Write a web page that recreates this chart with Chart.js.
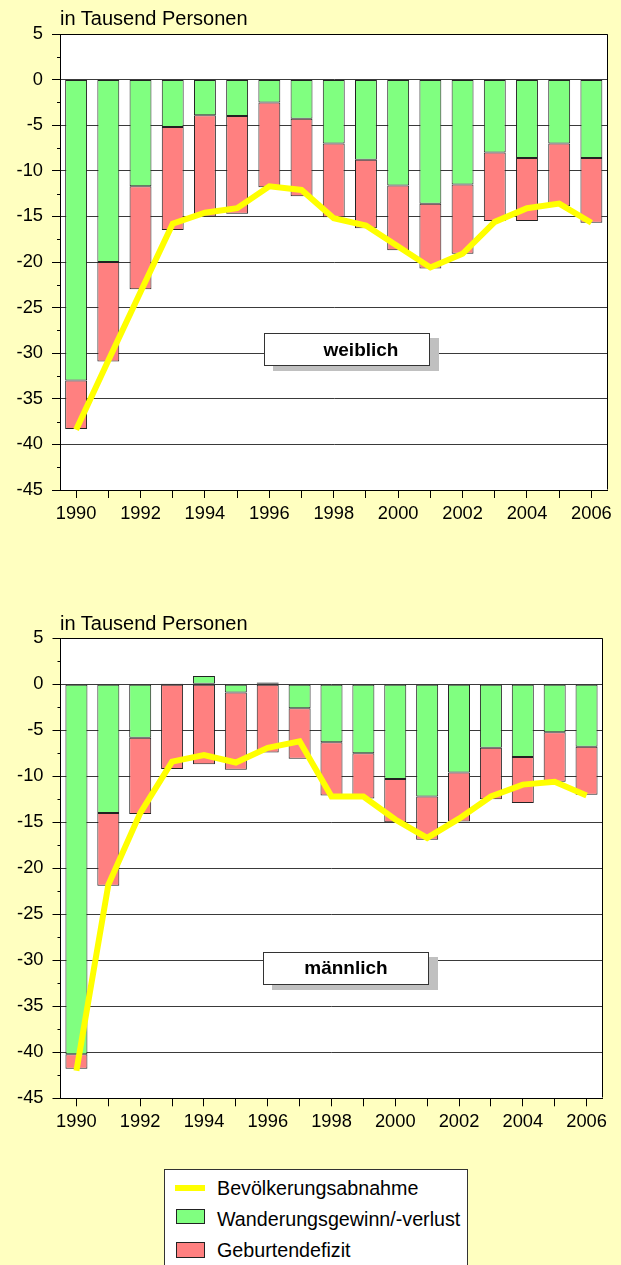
<!DOCTYPE html>
<html><head><meta charset="utf-8">
<script src="https://cdn.jsdelivr.net/npm/chart.js@4.4.1/dist/chart.umd.min.js"></script>
<style>
html,body{margin:0;padding:0;background:#FFFFC0;width:621px;height:1265px;overflow:hidden;font-family:"Liberation Sans",Arial,sans-serif;color:#000;}
.abs{position:absolute;}
.ttl{font-size:20px;line-height:20px;white-space:nowrap;}
.box{background:#fff;border:1px solid #333;box-sizing:border-box;box-shadow:9px 5px 0 #c0c0c0;font-weight:bold;font-size:19px;text-align:center;}
.leg{font-size:19.7px;line-height:20px;white-space:nowrap;}
</style></head><body>

<div class="abs" style="left:0;top:0;width:621px;height:530px;"><canvas id="cW" width="621" height="530"></canvas></div>
<div class="abs" style="left:0;top:600px;width:621px;height:540px;"><canvas id="cM" width="621" height="540"></canvas></div>

<div class="abs ttl" style="left:60px;top:8px;">in Tausend Personen</div>
<div class="abs ttl" style="left:60px;top:613px;">in Tausend Personen</div>

<div class="abs box" style="left:264px;top:333px;width:166px;height:33px;line-height:30px;padding-left:28px;padding-top:1px;">weiblich</div>
<div class="abs box" style="left:263px;top:952px;width:166px;height:33px;line-height:30px;">männlich</div>

<div class="abs" style="left:164px;top:1169px;width:304px;height:100px;background:#fff;border:1px solid #333;box-sizing:border-box;"></div>
<div class="abs" style="left:175px;top:1185px;width:30px;height:6px;background:#FFFF00;"></div>
<div class="abs" style="left:176px;top:1209px;width:29px;height:15px;background:#80FF80;border:1px solid #222;box-sizing:border-box;"></div>
<div class="abs" style="left:176px;top:1242px;width:29px;height:16px;background:#FF8080;border:1px solid #222;box-sizing:border-box;"></div>
<div class="abs leg" style="left:217px;top:1178px;">Bevölkerungsabnahme</div>
<div class="abs leg" style="left:217px;top:1209px;">Wanderungsgewinn/-verlust</div>
<div class="abs leg" style="left:217px;top:1240px;">Geburtendefizit</div>

<script>
const years = ['1990','1991','1992','1993','1994','1995','1996','1997','1998','1999','2000','2001','2002','2003','2004','2005','2006'];
const xTickLabels = ['1990','','1992','','1994','','1996','','1998','','2000','','2002','','2004','','2006'];
const yMin = -45;
const yMax = 5;
const yStep = 5;

const seriesNames = ['Bevölkerungsabnahme','Wanderungsgewinn/-verlust','Geburtendefizit'];

// weiblich
const femaleMigration    = [-33.0,-20.0,-11.7,-5.2,-3.9,-4.0,-2.5,-4.3,-7.0,-8.8,-11.6,-13.6,-11.5,-8.0,-8.6,-7.0,-8.6];
const femaleBirthDeficit = [-5.3,-10.9,-11.3,-11.3,-11.1,-10.7,-9.3,-8.5,-8.1,-7.5,-7.1,-7.1,-7.6,-7.5,-6.9,-6.9,-7.1];
const femaleDecline      = [-38.4,-30.8,-23.3,-15.8,-14.6,-14.1,-11.7,-12.1,-15.2,-16.0,-18.3,-20.6,-19.1,-15.6,-14.1,-13.6,-15.7];

// männlich
const maleMigration    = [-40.2,-14.0,-5.8,0.1,0.9,-0.9,0.2,-2.6,-6.3,-7.5,-10.3,-12.2,-9.6,-6.9,-7.9,-5.2,-6.8];
const maleBirthDeficit = [-1.6,-7.9,-8.3,-9.2,-8.7,-8.4,-7.4,-5.5,-5.8,-4.9,-4.7,-4.7,-5.3,-5.6,-5.0,-5.4,-5.2];
const maleDecline      = [-42.0,-21.8,-14.0,-8.4,-7.7,-8.5,-6.9,-6.2,-12.2,-12.2,-14.7,-16.7,-14.6,-12.2,-10.9,-10.6,-12.1];

const FONT = '"Liberation Sans", Arial, sans-serif';

const framePlugin = {
  id: 'frame',
  beforeDraw(chart) {
    const {ctx, chartArea: a} = chart;
    ctx.save();
    ctx.fillStyle = '#fff';
    ctx.fillRect(a.left, a.top, a.right - a.left, a.bottom - a.top);
    ctx.restore();
  },
  afterDraw(chart) {
    const {ctx, chartArea: a} = chart;
    const y = chart.scales.y;
    ctx.save();
    ctx.strokeStyle = '#000';
    ctx.lineWidth = 1;
    const l = Math.round(a.left) + 0.5, t = Math.round(a.top) + 0.5;
    const r = Math.round(a.right) - 0.5, b = Math.round(a.bottom) - 0.5;
    ctx.beginPath();
    ctx.moveTo(l, t); ctx.lineTo(r, t); ctx.lineTo(r, b);
    ctx.stroke();
    for (let v = y.min; v <= y.max + 0.001; v += yStep / 2) {
      if (Math.abs(v % yStep) > 0.01) {
        const py = Math.round(y.getPixelForValue(v)) + 0.5;
        ctx.beginPath();
        ctx.moveTo(a.left - 3, py);
        ctx.lineTo(a.left, py);
        ctx.stroke();
      }
    }
    ctx.restore();
  }
};

function makeChart(id, mig, birth, decline, L) {
  return new Chart(document.getElementById(id), {
    type: 'bar',
    data: {
      labels: years,
      datasets: [
        { type: 'line', label: seriesNames[0], data: decline, borderColor: '#FFFF00', borderWidth: 6,
          pointRadius: 0, tension: 0, fill: false, stack: 'line', order: 0, borderCapStyle: 'butt' },
        { type: 'bar', label: seriesNames[1], data: mig, backgroundColor: '#80FF80', borderColor: '#222',
          borderWidth: 1, borderSkipped: false, stack: 'bars', order: 1 },
        { type: 'bar', label: seriesNames[2], data: birth, backgroundColor: '#FF8080', borderColor: '#222',
          borderWidth: 1, borderSkipped: false, stack: 'bars', order: 2 }
      ]
    },
    options: {
      responsive: false,
      animation: false,
      devicePixelRatio: 1,
      datasets: { bar: { categoryPercentage: 1.0, barPercentage: L.bp } },
      layout: { padding: { left: 0, top: L.top, right: L.right, bottom: 0 } },
      plugins: { legend: { display: false }, tooltip: { enabled: false } },
      scales: {
        x: {
          stacked: true,
          offset: true,
          grid: { display: true, drawOnChartArea: false, offset: false, tickLength: 8, color: '#000' },
          border: { color: '#000', width: 1 },
          ticks: {
            autoSkip: false, maxRotation: 0, minRotation: 0, padding: 5, color: '#000',
            font: { family: FONT, size: 18.3 },
            callback: (v, i) => xTickLabels[i]
          },
          afterFit: s => { s.height = L.xh; }
        },
        y: {
          stacked: true,
          min: yMin, max: yMax,
          grid: { color: '#3a3a3a', lineWidth: 1, tickLength: 8, tickColor: '#000' },
          border: { color: '#000', width: 1 },
          ticks: { stepSize: yStep, padding: 9, color: '#000', font: { family: FONT, size: 18.3 } },
          afterFit: s => { s.width = L.yw; }
        }
      }
    },
    plugins: [framePlugin]
  });
}

makeChart('cW', femaleMigration, femaleBirthDeficit, femaleDecline, { top: 34, right: 13.5, xh: 40, yw: 60, bp: 0.68 });
makeChart('cM', maleMigration, maleBirthDeficit, maleDecline, { top: 38.3, right: 18.5, xh: 41.7, yw: 60.5, bp: 0.69 });
</script>
</body></html>
